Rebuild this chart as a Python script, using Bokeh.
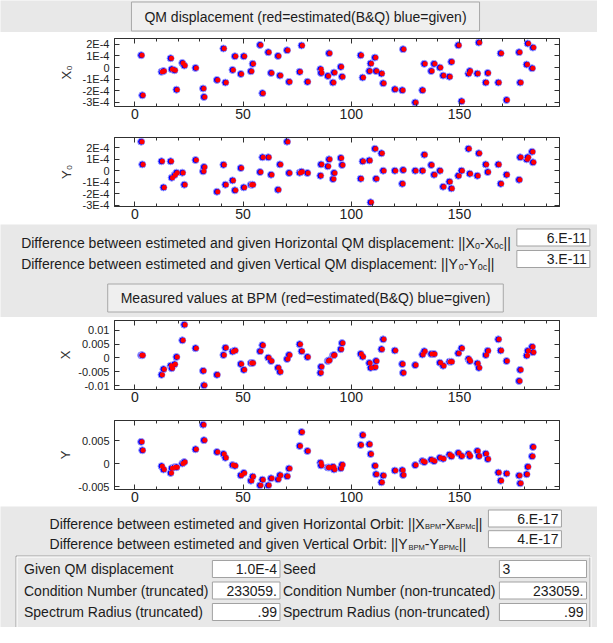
from bokeh.plotting import figure
from bokeh.layouts import column
from bokeh.models import Range1d, FixedTicker, LinearAxis, ColumnDataSource
from bokeh.transform import dodge
from bokeh.core.properties import value
from bokeh.embed import file_html
from bokeh.resources import INLINE

# ---------------- data ----------------
element_s = [2.9, 3.4, 12.3, 13.2, 16.5, 17.0, 18.3, 19.2, 21.9, 22.8,
             28.0, 31.5, 31.9, 37.9, 40.9, 41.8, 45.1, 46.2, 48.9, 50.3,
             53.6, 54.4, 57.8, 58.9, 61.6, 62.9, 66.1, 67.0, 70.3, 71.2,
             76.1, 77.0, 79.7, 85.7, 86.0, 89.1, 89.7, 91.5, 92.0, 95.1,
             95.7, 104.3, 105.2, 108.3, 108.9, 110.9, 111.4, 113.9, 114.7, 120.1,
             123.5, 123.9, 129.5, 132.8, 133.7, 136.9, 138.2, 140.9, 142.4, 145.3,
             146.2, 149.4, 150.9, 154.1, 154.7, 158.2, 158.9, 162.1, 163.0, 167.9,
             169.0, 171.7, 177.5, 178.0, 181.0, 181.5, 183.5, 183.9]

# QM displacement, units of 1E-4
qm_x0_given = [1.06, -2.39, -0.37, -0.30, 0.80, -0.14, -0.23, -1.90, 0.40, 0.17,
               -0.03, -1.80, -2.53, -1.06, 1.64, -1.29, -0.20, 0.97, -0.55, 0.97,
               -0.32, 0.32, 1.95, -2.20, 1.32, -0.46, 1.00, -0.69, 1.49, -1.23,
               -0.37, 1.90, -1.23, -0.14, -0.46, -0.72, 1.23, -1.29, -0.43, 0.06,
               -0.78, 1.06, -0.86, -0.30, 0.35, 0.86, -0.30, -0.52, -1.35, -1.87,
               -1.95, 1.58, -3.00, -1.95, 0.32, -0.30, 0.32, 0.00, -0.69, -0.78,
               0.49, 1.92, -2.90, -0.52, -0.30, -0.52, 2.15, -1.29, -0.46, -1.29,
               1.23, -2.79, 1.32, -1.29, 0.26, 2.07, -0.06, 1.72]
qm_x0_estimated = list(qm_x0_given)

qm_y0_given = [2.54, 0.55, 0.82, -1.46, 0.82, -0.61, -0.38, -0.17, -0.17, -1.22,
               0.93, -0.06, 0.32, -1.84, 0.52, -1.22, -0.85, -1.72, 0.23, -1.46,
               -1.22, -1.22, -0.12, 1.17, 1.17, -0.35, -1.66, 0.55, 2.54, -0.20,
               -0.17, -0.09, -0.20, -0.44, 0.55, 0.38, 0.99, -0.73, -0.20, 1.11,
               0.50, -0.70, 0.82, 0.90, -2.77, 1.92, -0.70, 1.52, 0.00, 0.00,
               -1.14, 0.06, 0.00, 0.00, 1.40, 0.50, -0.35, 0.00, -1.40, -0.96,
               -1.55, -0.44, 0.00, 1.92, -0.26, -0.44, 1.52, 0.55, -0.12, 0.55,
               -1.14, -0.35, -0.79, 1.17, 0.99, 1.17, 1.66, 0.73]
qm_y0_estimated = list(qm_y0_given)

# BPM orbit, units of 1E-3
bpm_x_given = [0.98, 0.98, -6.10, -4.05, -2.80, -3.70, -2.30, 0.37, 6.40, 12.10,
               3.56, -4.66, -9.94, -6.10, 1.10, 3.68, 2.33, 2.70, -2.20, -4.30,
               -1.84, -1.84, 2.45, 4.66, 0.12, -1.10, -3.56, -5.00, -0.37, 1.10,
               5.00, 2.45, 0.37, -5.40, -3.20, -1.10, -0.86, 0.86, 1.10, 3.20,
               5.40, 1.47, 0.49, -1.84, -3.56, -3.30, -1.10, 3.20, 6.75, 2.70,
               -2.20, -5.40, -2.58, 1.23, 2.45, 1.47, 1.47, -1.72, -2.80, -1.35,
               -1.35, 1.72, 3.56, -0.37, -1.10, -1.96, -3.56, 1.10, 2.58, 6.75,
               2.70, -1.10, -8.34, -4.30, 0.86, 2.58, 4.05, 2.10]
bpm_x_estimated = list(bpm_x_given)

bpm_y_given = [4.74, 2.92, -0.51, -1.24, -1.97, -0.95, -0.73, -0.73, 0.07, 0.36,
               3.14, 8.47, 5.11, 2.55, 2.12, 1.31, -0.29, -0.44, -2.48, -1.97,
               -3.65, -2.77, -4.67, -3.43, -4.67, -3.14, -3.36, -2.48, -2.70, -1.02,
               3.87, 6.86, 2.77, 0.22, -0.36, -0.80, -0.80, -0.66, -1.24, -0.95,
               -0.22, 4.09, 6.20, 4.23, 2.12, -0.44, -2.26, -4.01, -2.55, -1.46,
               -1.39, -2.41, -0.29, 0.58, 0.36, 0.88, 0.58, 1.31, 1.09, 1.97,
               1.61, 2.34, 1.68, 2.12, 1.68, 2.77, 1.68, 2.19, 1.02, -1.90,
               -3.65, -2.12, -2.55, -4.23, -2.26, -0.66, 1.61, 3.65]
bpm_y_estimated = list(bpm_y_given)

s_ticks = [0, 50, 100, 150]
s_minor_ticks = [-10, 10, 20, 30, 40, 60, 70, 80, 90, 110, 120, 130, 140, 160, 170, 180, 190]
qm_ticks = [-3, -2, -1, 0, 1, 2]
qm_tick_labels = ["-3E-4", "-2E-4", "-1E-4", "0", "1E-4", "2E-4"]
bpm_x_ticks = [-10, -5, 0, 5, 10]
bpm_x_tick_labels = ["-0.01", "-0.005", "0", "0.005", "0.01"]
bpm_y_ticks = [-5, 0, 5]
bpm_y_tick_labels = ["-0.005", "0", "0.005"]

qm_button_text = "QM displacement (red=estimated(B&Q) blue=given)"
bpm_button_text = "Measured values at BPM (red=estimated(B&Q) blue=given)"
qm_diff_values = ["6.E-11", "3.E-11"]
orbit_diff_values = ["6.E-17", "4.E-17"]
param_labels_left = ["Given QM displacement", "Condition Number (truncated)", "Spectrum Radius (truncated)"]
param_values_left = ["1.0E-4", "233059.", ".99"]
param_labels_right = ["Seed", "Condition Number (non-truncated)", "Spectrum Radius (non-truncated)"]
param_values_right = ["3", "233059.", ".99"]

# ---------------- style ----------------
FONT = "Liberation Sans"
FS = 14
W = 597
CX = 305
GRAY = "#e8e8e8"
TXT = "#1c1c1c"
FRAME = "#303030"
PAD = 0.068

AFM = {' ': 278, '!': 278, '&': 667, '(': 333, ')': 333, '-': 333, '.': 278, ':': 278,
       '=': 584, '|': 260, 'A': 667, 'B': 667, 'C': 722, 'D': 722, 'E': 667, 'F': 611,
       'G': 778, 'H': 722, 'I': 278, 'K': 667, 'L': 556, 'M': 833, 'N': 722, 'O': 778,
       'P': 667, 'Q': 778, 'R': 722, 'S': 667, 'T': 611, 'U': 722, 'V': 667, 'W': 944,
       'X': 667, 'Y': 667, 'Z': 611, 'a': 556, 'b': 556, 'c': 500, 'd': 556, 'e': 556,
       'f': 278, 'g': 556, 'h': 556, 'i': 222, 'j': 222, 'k': 500, 'l': 222, 'm': 833,
       'n': 556, 'o': 556, 'p': 556, 'q': 556, 'r': 333, 's': 500, 't': 278, 'u': 556,
       'v': 500, 'w': 722, 'x': 500, 'y': 500, 'z': 500}


def tw(s, size):
    return sum(AFM.get(c, 556) for c in s) * size / 1000.0


def data_range(vals):
    lo, hi = min(vals), max(vals)
    d = (hi - lo) * PAD
    return Range1d(lo - d, hi + d)


def no_align(p):
    if "frame_align" in p.properties():
        p.frame_align = False
    return p


def style_axis(ax, labels, size="14px", standoff=2):
    ax.axis_line_color = FRAME
    ax.major_tick_line_color = FRAME
    ax.minor_tick_line_color = FRAME
    ax.major_tick_in = 5
    ax.major_tick_out = 0
    ax.minor_tick_in = 3
    ax.minor_tick_out = 0
    if labels:
        ax.major_label_text_font = FONT
        ax.major_label_text_font_size = size
        ax.major_label_text_color = "#222222"
        ax.major_label_standoff = standoff
    else:
        ax.major_label_text_font_size = "1px"
        ax.major_label_text_alpha = 0
        ax.major_label_standoff = 0


def scatter_panel(height, top, bottom, ylabel, given, est, yticks, ylabels, lab_standoff):
    p = figure(width=W, height=height, x_range=data_range(element_s), y_range=data_range(given),
               output_backend="svg", toolbar_location=None, x_axis_type=None, y_axis_type=None,
               min_border_left=114, min_border_right=38, min_border_top=top, min_border_bottom=bottom)
    no_align(p)
    p.background_fill_color = "white"
    p.border_fill_color = "white"
    p.outline_line_color = FRAME
    p.outline_line_width = 1
    xt = FixedTicker(ticks=s_ticks, minor_ticks=s_minor_ticks)
    yt = FixedTicker(ticks=yticks, minor_ticks=[])
    bx = LinearAxis(ticker=xt)
    style_axis(bx, True, "14px", 2)
    p.add_layout(bx, "below")
    tx = LinearAxis(ticker=xt)
    style_axis(tx, False)
    p.add_layout(tx, "above")
    ly = LinearAxis(ticker=yt, axis_label=ylabel)
    style_axis(ly, True, "11px", 5)
    ly.major_label_overrides = dict(zip(yticks, ylabels))
    ly.axis_label_text_font = FONT
    ly.axis_label_text_font_size = "13px"
    ly.axis_label_text_font_style = "normal"
    ly.axis_label_text_color = "#333333"
    ly.axis_label_standoff = lab_standoff
    p.add_layout(ly, "left")
    ry = LinearAxis(ticker=yt)
    style_axis(ry, False)
    p.add_layout(ry, "right")
    src = ColumnDataSource(dict(s=element_s, given=given, est=est))
    p.scatter(x="s", y="given", source=src, size=7, fill_color="#0000ff",
              line_color="#a4a4ff", line_width=1)
    p.scatter(x=dodge("s", 0.4), y="est", source=src, size=5, fill_color="#ff0000",
              line_color=None)
    return p


def gui_panel(height, bg=GRAY):
    p = figure(width=W, height=height, x_range=Range1d(0, W), y_range=Range1d(height, 0),
               output_backend="svg", toolbar_location=None, x_axis_type=None, y_axis_type=None,
               min_border=0, min_border_left=0, min_border_right=0, min_border_top=0,
               min_border_bottom=0)
    no_align(p)
    p.background_fill_color = bg
    p.border_fill_color = bg
    p.outline_line_color = None
    return p


def txt(p, x, y, s, size=FS, align="left", baseline="middle"):
    p.text(x=[x], y=[y], text=[s], text_font=value(FONT), text_font_size=value(f"{size}px"),
           text_align=align, text_baseline=baseline, text_color=TXT)


def field(p, l, r, t, b, s, align="right"):
    p.quad(left=[l], right=[r], top=[t], bottom=[b], fill_color="white",
           line_color="#a2a2a2", line_width=1)
    if align == "right":
        txt(p, r - 3, (t + b) / 2, s, align="right")
    else:
        txt(p, l + 3, (t + b) / 2, s, align="left")


def button(p, t, b, s):
    w = tw(s, FS) + 26
    l, r = CX - w / 2, CX + w / 2
    p.quad(left=[l], right=[r], top=[t], bottom=[b], fill_color="#efefef",
           line_color="#a8a8a8", line_width=1)
    txt(p, CX, (t + b) / 2, s, align="center")


def rich(p, x, ymid, parts):
    xb = x
    base = ymid + 0.36 * FS
    for s, fs, dy in parts:
        p.text(x=[xb], y=[base + dy], text=[s], text_font=value(FONT),
               text_font_size=value(f"{fs}px"), text_align="left",
               text_baseline="alphabetic", text_color=TXT)
        xb += tw(s, fs)


def parts_width(parts):
    return sum(tw(s, fs) for s, fs, dy in parts)


SUB = 9
SUB2 = 7.5
DY = 3

qm_lines = [
    [("Difference between estimeted and given Horizontal QM displacement: ||X", FS, 0),
     ("0", SUB, DY), ("-X", FS, 0), ("0c", SUB, DY), ("||", FS, 0)],
    [("Difference between estimeted and given Vertical QM displacement: ||Y", FS, 0),
     ("0", SUB, DY), ("-Y", FS, 0), ("0c", SUB, DY), ("||", FS, 0)],
]
orbit_lines = [
    [("Difference between estimeted and given Horizontal Orbit: ||X", FS, 0),
     ("BPM", SUB2, DY), ("-X", FS, 0), ("BPMc", SUB2, DY), ("||", FS, 0)],
    [("Difference between estimeted and given Vertical Orbit: ||Y", FS, 0),
     ("BPM", SUB2, DY), ("-Y", FS, 0), ("BPMc", SUB2, DY), ("||", FS, 0)],
]


def diff_rows(p, lines, values, ys, box_w=73, gap=6):
    mw = max(parts_width(l) for l in lines)
    x0 = CX - (mw + gap + box_w) / 2
    bx = x0 + mw + gap
    for l, v, y in zip(lines, values, ys):
        rich(p, x0, y, l)
        field(p, bx, bx + box_w, y - 8.5, y + 8.5, v)


# ---------------- header ----------------
header = gui_panel(32)
button(header, 1.5, 30.5, qm_button_text)

# ---------------- plots ----------------
p_x0 = scatter_panel(91, 6, 17, "X\u2080", qm_x0_given, qm_x0_estimated, qm_ticks, qm_tick_labels, 6)
sep1 = gui_panel(2)
p_y0 = scatter_panel(99, 12, 18, "Y\u2080", qm_y0_given, qm_y0_estimated, qm_ticks, qm_tick_labels, 6)

mid = gui_panel(93)
diff_rows(mid, qm_lines, qm_diff_values, [13, 34.5])
button(mid, 59.5, 87.5, bpm_button_text)

p_x = scatter_panel(89, 3, 17, "X", bpm_x_given, bpm_x_estimated, bpm_x_ticks, bpm_x_tick_labels, 2)
sep2 = gui_panel(3)
p_y = scatter_panel(97, 11, 17, "Y", bpm_y_given, bpm_y_estimated, bpm_y_ticks, bpm_y_tick_labels, 2)

bottom = gui_panel(121)
diff_rows(bottom, orbit_lines, orbit_diff_values, [12, 32.7])
# group box (etched)
bottom.quad(left=[15.5], right=[589.5], top=[49.5], bottom=[130], fill_color=None,
            line_color="#a0a0a0", line_width=1)
bottom.quad(left=[16.5], right=[590.5], top=[50.5], bottom=[131], fill_color=None,
            line_color="white", line_width=1)
col1 = 23.5
b1l = col1 + max(tw(s, FS) for s in param_labels_left) + 4
b1r = b1l + tw("233059.", FS) + 17
col2 = b1r + 3
b2l = col2 + max(tw(s, FS) for s in param_labels_right) + 4
b2r = 586
for i, y in enumerate([62.5, 84, 105.5]):
    txt(bottom, col1, y, param_labels_left[i])
    field(bottom, b1l, b1r, y - 8.5, y + 8.5, param_values_left[i])
    txt(bottom, col2, y, param_labels_right[i])
    field(bottom, b2l, b2r, y - 8.5, y + 8.5, param_values_right[i],
          align="left" if i == 0 else "right")

children = [header, p_x0, sep1, p_y0, mid, p_x, sep2, p_y, bottom]
if "frame_align" not in header.properties():
    children = [column(c, spacing=0) for c in children]
layout = column(*children, spacing=0)

open("out.html", "w").write(file_html(layout, INLINE))
